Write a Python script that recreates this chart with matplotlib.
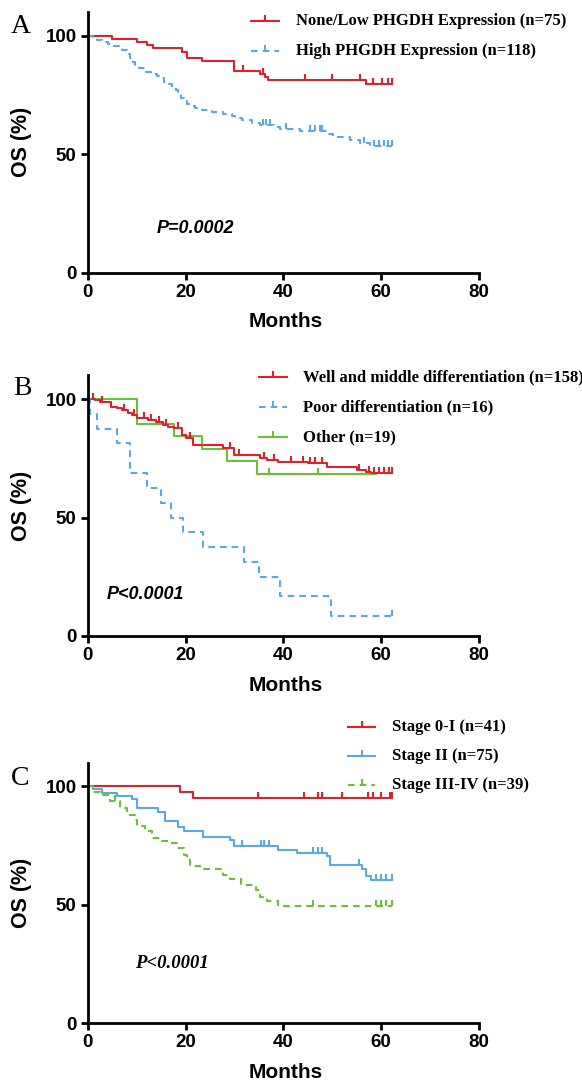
import numpy as np
import matplotlib
matplotlib.use("Agg")
import matplotlib.pyplot as plt
from matplotlib.lines import Line2D

RED = "#E2202C"
BLUE = "#5AA9E1"
GREEN = "#6CC034"

# ---- panel A : PHGDH expression ----
a_low_t = [4.9, 10.0, 12.1, 13.4, 19.2, 20.2, 23.3, 29.9, 35.2, 36.3, 36.9, 56.9]
a_low_s = [98.7, 97.3, 96.0, 94.7, 93.3, 90.7, 89.3, 85.3, 84.0, 82.7, 81.3, 79.7]
a_low_cens = [31.8, 35.9, 44.5, 49.9, 55.7, 58.4, 60.1, 61.4, 62.2]

a_high_t = [1.0, 2.0, 3.0, 4.2, 5.0, 6.3, 7.0, 8.0, 8.7, 9.2, 9.7, 10.5, 11.7, 13.0,
            14.1, 15.0, 15.5, 16.3, 17.2, 18.0, 18.5, 19.1, 19.6, 20.2, 20.9, 22.0,
            23.3, 25.4, 27.7, 29.4, 30.2, 31.5, 33.5, 35.2, 38.0, 39.3, 43.4, 48.9,
            50.2, 53.6, 55.7, 57.7]
a_high_s = [99.2, 98.3, 97.5, 96.6, 95.8, 94.9, 94.1, 92.4, 90.7, 89.0, 87.3, 86.4,
            84.7, 83.9, 83.0, 82.2, 80.5, 79.7, 78.0, 77.1, 75.4, 73.7, 72.9, 71.2,
            70.3, 69.5, 68.6, 67.8, 66.9, 66.1, 65.2, 64.4, 63.2, 62.3, 61.4, 60.5,
            59.6, 58.4, 57.2, 56.0, 54.8, 53.6]
a_high_cens = [35.8, 36.5, 37.3, 40.5, 45.5, 46.5, 47.5, 48.0, 56.5, 58.5, 59.5,
               60.5, 61.3, 62.2]

# ---- panel B : differentiation ----
b_well_t = [1.5, 2.5, 4.8, 6.0, 7.0, 8.2, 9.0, 10.1, 12.4, 13.9, 15.4, 16.5, 17.7,
            19.2, 20.0, 21.5, 27.6, 29.9, 35.2, 36.7, 39.0, 45.1, 48.9, 55.0, 56.9, 58.0]
b_well_s = [99.4, 98.7, 96.8, 96.2, 95.4, 94.0, 93.3, 91.8, 91.1, 90.4, 88.9, 88.3,
            87.6, 84.8, 83.4, 80.6, 79.2, 76.4, 75.0, 74.3, 73.6, 72.9, 71.4, 70.0,
            69.3, 68.6]
b_well_cens = [1.0, 3.0, 7.5, 9.5, 11.5, 13.0, 14.5, 16.0, 18.5, 21.0, 29.0, 31.0,
               36.0, 38.0, 41.5, 44.0, 45.5, 46.5, 48.0, 55.5, 57.5, 58.5, 59.5,
               60.5, 61.5, 62.2]

b_poor_t = [0.5, 2.0, 6.0, 8.7, 12.2, 15.0, 17.0, 19.5, 23.6, 32.0, 35.0, 39.3, 49.8]
b_poor_s = [93.75, 87.5, 81.25, 68.75, 62.5, 56.25, 50.0, 43.75, 37.5, 31.25, 25.0,
            16.7, 8.3]
b_poor_cens = [62.2]

b_other_t = [10.0, 17.7, 23.3, 28.4, 34.7]
b_other_s = [89.5, 84.2, 78.9, 73.7, 68.4]
b_other_cens = [37.0, 47.0]
b_other_end = 59.0

# ---- panel C : stage ----
c_s1_t = [18.9, 21.5]
c_s1_s = [97.6, 95.1]
c_s1_cens = [34.8, 44.3, 47.0, 48.0, 51.9, 57.3, 58.4, 59.9, 61.8, 62.2]

c_s2_t = [1.0, 2.9, 5.9, 9.0, 10.0, 14.4, 15.8, 18.5, 19.6, 23.6, 29.1, 29.9, 39.0,
          42.8, 48.9, 49.6, 56.0, 56.9, 58.0]
c_s2_s = [98.7, 97.3, 96.0, 94.7, 90.7, 89.3, 85.3, 82.7, 81.3, 78.7, 77.3, 74.7,
          73.3, 72.0, 70.7, 67.0, 65.0, 62.3, 60.3]
c_s2_cens = [31.5, 35.5, 36.0, 37.0, 46.0, 47.0, 48.0, 55.5, 59.0, 60.0, 61.0, 62.2]

c_s3_t = [1.1, 2.5, 4.6, 6.6, 8.0, 9.7, 10.0, 11.7, 13.1, 14.8, 16.8, 18.2, 19.6,
          20.2, 20.9, 23.0, 27.6, 29.1, 31.4, 34.4, 35.2, 36.7, 39.0]
c_s3_s = [97.4, 96.5, 93.7, 91.0, 88.0, 85.9, 83.1, 81.0, 78.2, 76.8, 76.2, 73.9,
          71.1, 69.0, 66.2, 65.2, 62.7, 61.0, 58.5, 56.3, 53.5, 51.4, 49.6]
c_s3_cens = [5.5, 46.0, 59.0, 60.0, 61.0, 62.2]

END = 62.2

W, H = 582, 1083
fig = plt.figure(figsize=(W / 100, H / 100), dpi=100)

SANS = "Liberation Sans"
SERIF = "Liberation Serif"
DASH = (3.2, 2.4)


def surv_at(t, s, x):
    idx = np.searchsorted(np.asarray(t), x, side="right")
    return 100.0 if idx == 0 else s[idx - 1]


def km(ax, t, s, cens, color, dashed=False, end=END):
    xs = np.concatenate([[0], t, [end]])
    ys = np.concatenate([[100], s, [s[-1]]])
    ln, = ax.plot(xs, ys, drawstyle="steps-post", color=color, lw=1.5, clip_on=False)
    if dashed:
        ln.set_dashes(DASH)
    cy = [surv_at(t, s, c) for c in cens]
    ax.plot(cens, cy, ls="none", marker=2, ms=4.5, mew=1.5, color=color, clip_on=False)


def setup(ax, bottom_px):
    ax.set_position([87.7 / W, 1 - bottom_px / H, 391.3 / W, 260.7 / H])
    ax.set_xlim(0, 80)
    ax.set_ylim(0, 110)
    ax.set_xticks([0, 20, 40, 60, 80])
    ax.set_yticks([0, 50, 100])
    for sp in ["top", "right"]:
        ax.spines[sp].set_visible(False)
    for sp in ["left", "bottom"]:
        ax.spines[sp].set_linewidth(2)
    ax.tick_params(width=2, length=5, labelsize=13.5, pad=3)
    for lab in ax.get_xticklabels() + ax.get_yticklabels():
        lab.set_fontfamily(SANS)
        lab.set_fontweight("bold")
    ax.set_xlabel("Months", fontsize=15, fontweight="bold", family=SANS, va="center")
    ax.xaxis.set_label_coords(0.507, -0.188)
    ax.set_ylabel("OS (%)", fontsize=15.5, fontweight="bold", family=SANS, va="center")
    ax.yaxis.set_label_coords(-0.168, 0.5)


def legend_row(x0, x1, xt, y, color, dashed, label):
    fy = 1 - y / H
    ln = Line2D([x0 / W, x1 / W], [fy, fy], transform=fig.transFigure, color=color, lw=1.5)
    if dashed:
        ln.set_dashes(DASH)
    fig.add_artist(ln)
    fig.add_artist(Line2D([(x0 + x1) / 2 / W], [fy], transform=fig.transFigure, color=color,
                          ls="none", marker=2, ms=4.5, mew=1.5))
    fig.text(xt / W, fy, label, fontsize=12, fontweight="bold", family=SERIF, va="center")


def panel_letter(x, y, s):
    fig.text(x / W, 1 - y / H, s, fontsize=20, family=SERIF, va="baseline")


# Panel A
axA = fig.add_axes([0, 0, 1, 1])
setup(axA, 272.7)
km(axA, a_low_t, a_low_s, a_low_cens, RED)
km(axA, a_high_t, a_high_s, a_high_cens, BLUE, dashed=True)
axA.text(14.2, 18.7, "P=0.0002", fontsize=13, fontweight="bold", fontstyle="italic",
         family=SANS, va="center")
legend_row(251, 279, 296, 20.7, RED, False, "None/Low PHGDH Expression (n=75)")
legend_row(251, 279, 296, 50.7, BLUE, True, "High PHGDH Expression (n=118)")
panel_letter(11, 33, "A")

# Panel B
axB = fig.add_axes([0, 0, 1, 1])
setup(axB, 636)
km(axB, b_other_t, b_other_s, b_other_cens, GREEN, end=b_other_end)
km(axB, b_well_t, b_well_s, b_well_cens, RED)
km(axB, b_poor_t, b_poor_s, b_poor_cens, BLUE, dashed=True)
axB.text(3.9, 17.3, "P<0.0001", fontsize=13, fontweight="bold", fontstyle="italic",
         family=SANS, va="center")
legend_row(259, 287, 303, 377, RED, False, "Well and middle differentiation (n=158)")
legend_row(259, 287, 303, 407, BLUE, True, "Poor differentiation (n=16)")
legend_row(259, 287, 303, 437, GREEN, False, "Other (n=19)")
panel_letter(13, 395, "B")

# Panel C
axC = fig.add_axes([0, 0, 1, 1])
setup(axC, 1023.3)
km(axC, c_s1_t, c_s1_s, c_s1_cens, RED)
km(axC, c_s2_t, c_s2_s, c_s2_cens, BLUE)
km(axC, c_s3_t, c_s3_s, c_s3_cens, GREEN, dashed=True)
axC.text(9.7, 25.3, "P<0.0001", fontsize=13.5, fontweight="bold", fontstyle="italic",
         family=SERIF, va="center")
legend_row(348, 375, 392, 726.7, RED, False, "Stage 0-I (n=41)")
legend_row(348, 375, 392, 755.7, BLUE, False, "Stage II (n=75)")
legend_row(348, 375, 392, 785, GREEN, True, "Stage III-IV (n=39)")
panel_letter(11, 785, "C")

fig.savefig("out.png", dpi=100)
